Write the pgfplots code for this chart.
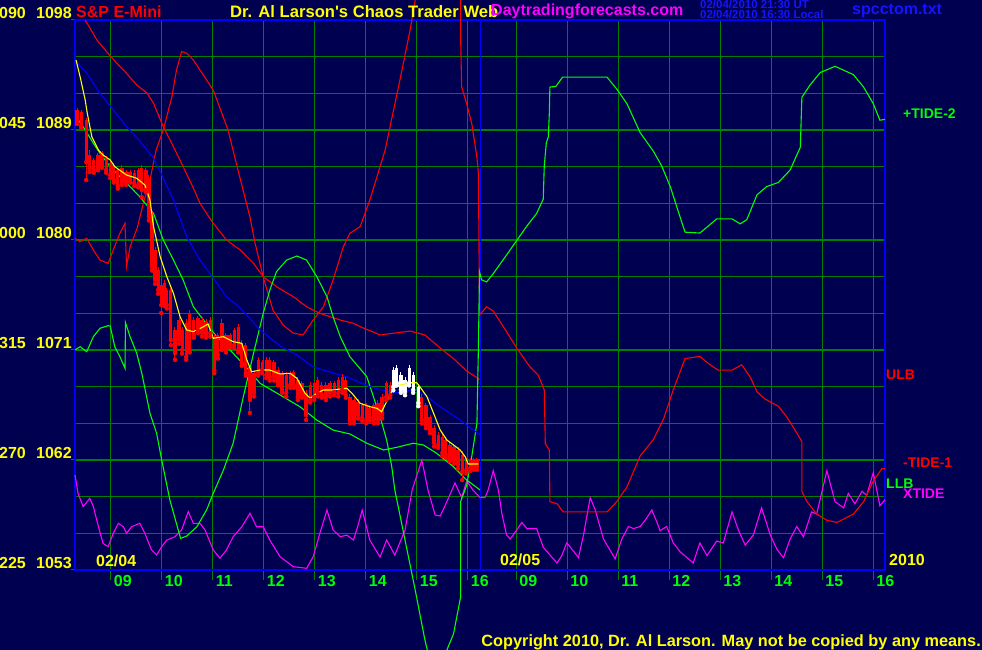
\documentclass[border=0pt]{standalone}
\usepackage{fontspec}
\setmainfont{Liberation Sans}
\usepackage{pgfplots}
\usepackage{pgfplotstable}
\pgfplotsset{compat=1.18}

\definecolor{navy}{RGB}{0,0,80}
\definecolor{gridgreen}{RGB}{0,128,0}
\definecolor{lgreen}{RGB}{0,255,0}
\definecolor{mag}{RGB}{255,0,255}
\definecolor{yel}{RGB}{255,255,0}
\definecolor{fblue}{RGB}{0,0,255}
\definecolor{tblue}{RGB}{20,20,255}
\newcommand\bigf{\fontsize{16}{18}\selectfont\bfseries}
\newcommand\titf{\fontsize{16.6}{18}\selectfont\bfseries}
\newcommand\midf{\fontsize{14}{16}\selectfont\bfseries}
\newcommand\smf{\fontsize{11.5}{12}\selectfont\bfseries}

% price bars: x (hours) wick low, body low, body high, wick high
\pgfplotstableread{
x wl bl bh wh
8.34 1089.49 1089.65 1090.64 1090.80
8.42 1089.20 1089.33 1090.47 1090.60
8.52 1084.91 1086.38 1089.82 1089.98
8.59 1085.56 1085.89 1086.95 1087.36
8.67 1085.50 1085.73 1086.55 1086.70
8.75 1085.70 1085.89 1086.95 1087.10
8.83 1085.90 1086.14 1087.12 1087.30
8.91 1085.50 1085.73 1086.71 1086.90
8.99 1085.07 1085.32 1086.30 1086.55
9.06 1084.70 1084.91 1086.14 1086.30
9.14 1084.20 1084.42 1085.73 1085.90
9.22 1084.50 1084.75 1085.89 1086.10
9.30 1084.50 1084.75 1085.56 1085.70
9.38 1084.70 1084.91 1085.56 1085.70
9.46 1084.40 1084.66 1085.48 1085.70
9.54 1084.30 1084.50 1085.73 1085.90
9.61 1083.50 1084.09 1085.89 1086.10
9.69 1083.90 1084.09 1085.73 1085.90
9.75 1081.60 1081.88 1085.07 1085.30
9.81 1077.50 1077.79 1082.05 1082.30
9.87 1076.40 1076.73 1079.18 1079.40
9.93 1075.60 1075.91 1077.55 1077.80
9.99 1074.03 1074.68 1076.32 1076.73
10.05 1074.60 1074.85 1076.48 1076.70
10.10 1074.40 1074.68 1075.91 1076.10
10.18 1071.40 1071.82 1075.91 1076.10
10.26 1070.20 1070.75 1072.64 1072.90
10.34 1071.50 1071.82 1073.45 1073.70
10.40 1070.70 1071.00 1072.64 1072.90
10.48 1070.20 1070.43 1073.21 1073.50
10.55 1070.80 1071.00 1074.03 1074.30
10.63 1072.00 1072.23 1073.45 1073.70
10.71 1072.40 1072.64 1073.62 1073.80
10.79 1072.10 1072.39 1073.45 1073.70
10.87 1072.00 1072.23 1073.29 1073.50
10.95 1072.10 1072.39 1073.45 1073.70
11.03 1069.10 1069.36 1072.06 1072.30
11.10 1070.30 1070.59 1072.23 1072.40
11.18 1071.00 1071.25 1073.21 1073.50
11.26 1070.80 1071.00 1072.23 1072.40
11.34 1071.20 1071.41 1072.23 1072.40
11.42 1071.20 1071.41 1072.64 1072.80
11.50 1070.80 1071.00 1072.88 1073.10
11.57 1069.70 1069.94 1071.57 1071.80
11.65 1068.90 1069.12 1071.41 1071.60
11.73 1065.85 1066.91 1069.61 1069.80
11.81 1067.20 1067.48 1069.12 1069.30
11.89 1068.90 1069.12 1070.18 1070.40
11.97 1069.10 1069.36 1070.02 1070.20
12.05 1068.70 1068.95 1070.18 1070.40
12.12 1068.50 1068.79 1070.18 1070.40
12.20 1068.50 1068.79 1070.02 1070.20
12.28 1068.10 1068.30 1069.36 1069.60
12.36 1067.50 1067.73 1069.12 1069.30
12.44 1067.20 1067.48 1068.95 1069.20
12.52 1067.90 1068.14 1069.12 1069.30
12.59 1067.90 1068.14 1069.20 1069.40
12.67 1066.90 1067.15 1068.55 1068.80
12.75 1067.10 1067.32 1068.30 1068.50
12.83 1065.27 1065.68 1067.48 1067.70
12.91 1066.70 1066.91 1068.14 1068.40
12.99 1066.90 1067.15 1068.30 1068.50
13.06 1067.20 1067.48 1068.55 1068.80
13.14 1067.10 1067.32 1068.14 1068.40
13.22 1066.90 1067.15 1068.14 1068.40
13.30 1067.20 1067.48 1068.30 1068.50
13.38 1067.30 1067.56 1068.30 1068.50
13.46 1067.20 1067.48 1068.55 1068.80
13.54 1067.50 1067.73 1068.79 1069.00
13.61 1067.10 1067.32 1068.55 1068.80
13.69 1065.00 1065.27 1067.15 1067.40
13.77 1065.00 1065.27 1066.91 1067.10
13.85 1065.40 1065.68 1066.75 1067.00
13.93 1065.20 1065.44 1066.50 1066.70
14.01 1065.00 1065.27 1066.50 1066.70
14.08 1065.20 1065.44 1066.25 1066.50
14.16 1065.00 1065.27 1066.50 1066.70
14.24 1065.00 1065.27 1066.66 1066.90
14.32 1065.40 1065.68 1067.15 1067.40
14.40 1066.90 1067.15 1068.30 1068.50
14.48 1067.10 1067.32 1068.14 1068.40
15.10 1065.00 1065.27 1067.15 1067.40
15.18 1064.60 1064.86 1066.50 1066.70
15.26 1064.20 1064.45 1065.52 1065.70
15.34 1063.10 1063.39 1064.62 1064.90
15.42 1063.00 1063.23 1064.05 1064.30
15.50 1062.30 1062.57 1063.88 1064.10
15.57 1062.20 1062.41 1063.64 1063.90
15.65 1061.90 1062.16 1063.23 1063.50
15.73 1061.70 1062.00 1063.06 1063.30
15.81 1061.30 1061.59 1062.82 1063.10
15.89 1060.36 1061.02 1062.41 1062.70
15.97 1060.90 1061.18 1062.00 1062.20
16.05 1061.10 1061.35 1062.00 1062.20
16.12 1061.20 1061.43 1062.00 1062.20
16.18 1061.20 1061.43 1062.00 1062.20
}\redbars

\pgfplotstableread{
x wl bl bh wh
14.54 1067.70 1067.97 1069.36 1069.60
14.61 1068.10 1068.30 1069.53 1069.80
14.69 1067.50 1067.73 1068.95 1069.20
14.77 1067.30 1067.56 1068.55 1068.80
14.85 1068.10 1068.30 1069.53 1069.80
14.93 1067.50 1067.73 1068.95 1069.20
15.03 1066.40 1066.66 1067.97 1068.20
}\whitebars

\pgfplotsset{cv/.style={line width=1.1pt, mark=none},
  bar/.style={only marks, mark=none, forget plot,
    error bars/.cd, y dir=plus, y explicit, error mark=none}}

\begin{document}
\begin{tikzpicture}[x=1pt,y=1pt]
\useasboundingbox (0,0) rectangle (982,650);
\fill[navy] (0,0) rectangle (982,650);
\clip (0,0) rectangle (982,650);
\begin{axis}[
  at={(75pt,80pt)}, anchor=south west,
  width=810pt, height=550pt, scale only axis,
  xmin=8.3, xmax=24.18, ymin=1053, ymax=1098,
  clip=false,
  axis line style={fblue, line width=2.8pt},
  grid=both,
  major grid style={gridgreen, line width=1.3pt},
  minor grid style={gridgreen, line width=1.3pt},
  xtick={9,10,11,12,13,14,15,16,16.95,17.95,18.95,19.95,20.95,21.95,22.95,23.95},
  xticklabels={09,10,11,12,13,14,15,16,09,10,11,12,13,14,15,16},
  ytick={1053,1062,1071,1080,1089,1098}, yticklabels={},
  minor ytick={1056,1059,1065,1068,1074,1077,1083,1086,1092,1095},
  tick align=outside, xtick pos=bottom, ytick pos=left,
  major tick length=10pt, minor tick length=0pt,
  ytick style={draw=none},
  xtick style={gridgreen, line width=1.3pt},
  x tick label style={text=lgreen, font=\bigf, anchor=north west,
    inner sep=0pt, xshift=3pt, yshift=5pt},
]
% day separator
\addplot[fblue, line width=1pt] coordinates {(16.25,1053) (16.25,1098)};

% XTIDE
\addplot[mag, cv] coordinates {
(8.30,1060.77)(8.36,1059.27)(8.46,1058.18)(8.59,1058.87)(8.66,1058.18)(8.76,1056.54)
(8.85,1055.18)(8.95,1054.91)(9.05,1056.00)(9.15,1056.82)(9.25,1056.54)(9.31,1056.00)
(9.41,1056.54)(9.57,1056.82)(9.67,1056.00)(9.80,1054.64)(9.90,1054.23)(10.00,1054.91)
(10.10,1055.45)(10.26,1055.72)(10.39,1056.27)(10.52,1057.77)(10.62,1056.82)(10.75,1056.82)
(10.85,1056.27)(11.01,1054.64)(11.14,1053.96)(11.27,1054.64)(11.40,1055.72)(11.57,1056.54)
(11.73,1057.64)(11.86,1056.54)(11.99,1056.54)(12.12,1055.45)(12.32,1054.09)(12.58,1053.27)
(12.84,1053.14)(12.97,1054.09)(13.10,1056.00)(13.24,1057.91)(13.36,1056.27)(13.50,1055.72)
(13.63,1055.86)(13.76,1055.45)(13.86,1056.82)(13.93,1057.91)(14.08,1055.45)(14.28,1054.06)
(14.41,1055.45)(14.57,1054.23)(14.77,1056.27)(14.91,1059.55)(15.10,1062.00)(15.22,1059.55)
(15.36,1057.50)(15.46,1057.42)(15.59,1058.59)(15.75,1060.12)(15.88,1058.93)(15.98,1060.28)
(16.10,1059.55)(16.24,1058.93)(16.34,1058.93)(16.40,1059.55)(16.50,1061.13)(16.60,1059.55)
(16.67,1057.58)(16.76,1055.88)(16.83,1055.54)(16.89,1055.86)(17.06,1056.89)(17.16,1056.39)
(17.35,1056.39)(17.48,1054.86)(17.75,1053.57)(17.84,1054.15)(17.94,1055.21)(18.04,1054.72)
(18.17,1054.01)(18.27,1055.88)(18.40,1058.93)(18.50,1057.91)(18.66,1055.54)(18.89,1053.91)
(19.02,1055.54)(19.15,1056.56)(19.25,1056.39)(19.38,1056.56)(19.48,1057.09)(19.61,1057.91)
(19.71,1056.89)(19.77,1056.22)(19.90,1056.56)(20.03,1055.21)(20.16,1054.51)(20.42,1053.57)
(20.55,1055.21)(20.69,1054.18)(20.88,1055.37)(21.01,1055.21)(21.18,1057.75)(21.31,1056.22)
(21.44,1055.03)(21.60,1055.88)(21.76,1058.08)(21.93,1055.88)(22.06,1054.69)(22.19,1054.01)
(22.32,1055.54)(22.45,1056.56)(22.58,1055.71)(22.74,1057.75)(22.84,1057.58)(23.04,1061.13)
(23.20,1058.59)(23.37,1058.08)(23.46,1059.27)(23.59,1058.42)(23.73,1059.44)(23.82,1059.10)
(23.95,1060.97)(24.08,1058.25)(24.18,1058.76)};

% ULB
\addplot[red, cv] coordinates {
(8.50,1098.00)(8.73,1096.36)(8.92,1095.41)(9.12,1094.46)(9.31,1093.64)(9.51,1092.68)
(9.71,1092.03)(9.84,1091.18)(10.03,1089.27)(10.23,1087.63)(10.42,1086.00)(10.62,1084.25)
(10.75,1083.00)(11.01,1081.37)(11.27,1080.00)(11.54,1079.18)(11.80,1078.09)(11.99,1077.00)
(12.25,1076.18)(12.58,1075.36)(12.84,1074.54)(13.10,1074.00)(13.50,1073.45)(13.76,1073.18)
(13.89,1072.91)(14.28,1072.23)(14.87,1072.55)(15.16,1072.23)(15.46,1071.16)(15.72,1070.30)
(15.98,1069.28)(16.23,1068.59)};

% -TIDE-1
\addplot[red, cv] coordinates {
(8.30,1080.14)(8.40,1079.86)(8.53,1080.14)(8.66,1079.18)(8.79,1078.36)(8.95,1078.09)
(9.05,1079.18)(9.18,1080.55)(9.28,1081.37)(9.31,1077.82)(9.38,1079.45)(9.52,1080.98)
(9.63,1082.86)(9.77,1084.91)(9.89,1087.36)(10.03,1089.00)(10.20,1091.72)(10.29,1093.91)
(10.39,1095.41)(10.49,1095.28)(10.62,1094.73)(10.75,1093.91)(11.01,1092.27)(11.14,1090.80)
(11.30,1089.00)(11.48,1085.97)(11.73,1081.88)(11.83,1079.75)(11.99,1076.97)(12.18,1074.27)
(12.38,1073.05)(12.57,1072.39)(12.77,1072.23)(12.97,1073.45)(13.17,1074.54)(13.36,1076.73)
(13.56,1079.45)(13.69,1080.55)(13.89,1081.09)(14.08,1083.27)(14.38,1087.36)(14.67,1093.09)
(14.87,1097.18)(14.97,1099.64)(15.42,1111.91)(15.86,1101.27)(15.86,1096.61)(15.88,1092.52)
(15.98,1091.13)(16.08,1089.49)(16.18,1086.75)(16.21,1085.40)(16.22,1079.59)(16.23,1073.86)
(16.37,1074.53)(16.50,1074.19)(16.76,1072.50)(16.96,1071.16)(17.22,1069.61)(17.38,1068.95)
(17.50,1067.73)(17.52,1063.34)(17.60,1062.82)(17.61,1058.59)(17.75,1058.42)(17.87,1057.75)
(18.73,1057.75)(18.92,1058.59)(19.12,1059.79)(19.38,1062.33)(19.64,1063.68)(19.84,1065.38)
(20.03,1067.75)(20.26,1070.30)(20.55,1070.47)(20.75,1069.79)(20.91,1069.35)(21.18,1069.35)
(21.37,1069.79)(21.54,1068.77)(21.67,1067.58)(21.80,1067.07)(21.93,1066.75)(22.09,1066.39)
(22.25,1065.54)(22.38,1064.70)(22.55,1063.51)(22.55,1059.44)(22.65,1058.59)(22.84,1057.58)
(23.04,1057.07)(23.24,1056.89)(23.56,1057.58)(23.76,1058.59)(23.95,1060.28)(24.12,1061.30)
(24.18,1061.30)};

% +TIDE-2
\addplot[lgreen, cv] coordinates {
(8.30,1071.00)(8.40,1071.27)(8.53,1070.86)(8.66,1072.09)(8.79,1072.78)(8.95,1072.99)
(8.99,1072.96)(9.08,1071.27)(9.18,1070.45)(9.28,1069.50)(9.29,1073.23)(9.38,1072.09)
(9.51,1070.73)(9.61,1069.09)(9.77,1065.82)(9.90,1064.18)(10.00,1062.00)(10.16,1058.73)
(10.37,1055.59)(10.49,1055.78)(10.69,1056.54)(10.88,1057.91)(11.01,1059.27)(11.21,1061.18)
(11.40,1063.37)(11.60,1067.18)(11.80,1070.73)(11.99,1074.00)(12.12,1075.91)(12.25,1077.41)
(12.45,1078.36)(12.65,1078.69)(12.84,1078.36)(13.04,1077.00)(13.24,1075.36)(13.36,1073.72)
(13.50,1072.09)(13.69,1070.45)(14.02,1068.82)(14.15,1067.18)(14.28,1065.54)(14.41,1063.64)
(14.51,1061.45)(14.57,1059.55)(14.77,1055.45)(14.97,1051.36)(15.16,1047.27)(15.30,1044.82)
(15.46,1044.82)(15.59,1046.45)(15.72,1047.76)(15.86,1050.79)(15.86,1058.59)(15.98,1059.95)
(16.08,1062.33)(16.18,1065.03)(16.21,1071.49)(16.23,1077.41)(16.27,1076.74)(16.37,1076.57)
(16.50,1077.25)(16.76,1078.77)(16.96,1079.96)(17.16,1081.15)(17.35,1082.17)(17.48,1083.35)
(17.50,1086.07)(17.54,1087.94)(17.58,1088.44)(17.60,1090.48)(17.61,1092.51)(17.73,1092.58)
(17.86,1093.33)(18.73,1093.33)(18.92,1092.35)(19.12,1091.16)(19.38,1088.78)(19.64,1087.26)
(19.80,1086.07)(19.97,1084.37)(20.10,1082.68)(20.26,1080.64)(20.55,1080.57)(20.69,1081.05)
(20.88,1081.73)(21.18,1081.73)(21.34,1081.32)(21.47,1081.66)(21.67,1083.69)(21.86,1084.37)
(22.09,1084.71)(22.32,1085.73)(22.52,1087.59)(22.55,1091.67)(22.71,1092.68)(22.91,1093.70)
(23.20,1094.21)(23.56,1093.53)(23.76,1092.51)(23.95,1091.16)(24.08,1089.80)(24.18,1089.87)};

% LLB
\addplot[lgreen, cv] coordinates {
(8.32,1090.09)(8.46,1089.27)(8.66,1087.91)(8.79,1087.09)(8.99,1086.00)(9.18,1085.18)
(9.38,1084.36)(9.57,1083.54)(9.84,1082.18)(10.03,1080.00)(10.23,1078.36)(10.42,1076.73)
(10.62,1074.54)(10.82,1073.45)(11.08,1072.09)(11.34,1071.00)(11.67,1069.53)(11.93,1068.27)
(12.32,1067.32)(12.71,1066.36)(13.04,1065.27)(13.36,1064.45)(13.69,1064.13)(14.02,1063.37)
(14.35,1062.82)(14.61,1063.04)(14.93,1063.37)(15.13,1063.23)(15.39,1062.55)(15.72,1061.45)
(15.98,1060.36)(16.24,1059.55)};

% blue average
\addplot[fblue, cv] coordinates {
(8.32,1094.59)(8.53,1093.64)(8.79,1092.00)(9.05,1090.64)(9.31,1089.27)(9.57,1088.10)
(9.84,1086.71)(10.03,1085.07)(10.23,1083.27)(10.49,1080.27)(10.75,1078.36)(11.01,1076.89)
(11.27,1075.36)(11.54,1074.44)(11.93,1072.64)(12.32,1071.33)(12.65,1070.59)(12.97,1069.61)
(13.30,1069.20)(13.63,1068.79)(14.08,1068.00)(14.54,1067.48)(14.93,1067.73)(15.13,1067.40)
(15.46,1066.36)(15.85,1065.27)(16.24,1064.05)};

% price bars
\addplot[red, bar, error bar style={line width=1pt}]
  table[x=x, y=wl, y error expr=\thisrow{wh}-\thisrow{wl}] {\redbars};
\addplot[red, bar, error bar style={line width=3.2pt}]
  table[x=x, y=bl, y error expr=\thisrow{bh}-\thisrow{bl}] {\redbars};
\addplot[white, bar, error bar style={line width=1pt}]
  table[x=x, y=wl, y error expr=\thisrow{wh}-\thisrow{wl}] {\whitebars};
\addplot[white, bar, error bar style={line width=3.2pt}]
  table[x=x, y=bl, y error expr=\thisrow{bh}-\thisrow{bl}] {\whitebars};

% yellow average
\addplot[yel, cv] coordinates {
(8.32,1094.73)(8.40,1093.36)(8.50,1091.45)(8.54,1090.39)(8.63,1088.45)(8.76,1087.36)
(8.85,1086.95)(8.99,1086.55)(9.08,1086.00)(9.31,1085.32)(9.51,1085.05)(9.67,1084.50)
(9.77,1083.27)(9.84,1081.09)(9.97,1078.63)(10.10,1077.00)(10.23,1075.64)(10.36,1073.72)
(10.49,1072.64)(10.62,1072.50)(10.82,1072.91)(10.91,1073.13)(11.01,1071.96)(11.21,1072.09)
(11.40,1071.68)(11.57,1071.55)(11.67,1070.18)(11.76,1069.22)(11.93,1069.36)(12.12,1069.36)
(12.32,1069.04)(12.52,1069.09)(12.65,1068.68)(12.81,1067.46)(12.91,1067.05)(13.04,1067.46)
(13.17,1067.73)(13.36,1067.73)(13.63,1067.87)(13.73,1067.46)(13.89,1066.64)(14.08,1066.36)
(14.22,1066.23)(14.31,1065.95)(14.41,1066.77)(14.54,1067.87)(14.67,1068.14)(14.87,1068.32)
(15.00,1068.32)(15.06,1068.00)(15.20,1067.18)(15.33,1065.82)(15.46,1064.45)(15.59,1063.64)
(15.72,1063.23)(15.85,1062.82)(15.95,1062.27)(16.01,1061.67)(16.21,1061.67)};
\end{axis}

% left scale labels and their small ticks
\foreach \py/\a/\b in {20/090/1098,130/045/1089,240/000/1080,350/315/1071,460/270/1062,570/225/1053}{
  \node[anchor=base east, inner sep=0pt, text=yel, font=\bigf] at (26,651-\py) {\a};
  \node[anchor=base east, inner sep=0pt, text=yel, font=\bigf] at (72,651-\py) {\b};
  \draw[gridgreen, line width=1pt] (71,650-\py) -- (74,650-\py);
}
% header
\node[anchor=base west, inner sep=0pt, text=red, font=\bigf] at (76,632.5) {S\&P E-Mini};
\node[anchor=base west, inner sep=0pt, text=yel, font=\titf] at (230,632.5) {Dr. Al Larson\textquotesingle s Chaos Trader Web};
\node[anchor=base west, inner sep=0pt, text=mag, font=\bigf] at (491,634) {Daytradingforecasts.com};
\node[anchor=base west, inner sep=0pt, text=tblue, font=\smf] at (700,641) {02/04/2010 21:30 UT};
\node[anchor=base west, inner sep=0pt, text=tblue, font=\smf] at (700,631.5) {02/04/2010 16:30 Local};
\node[anchor=base west, inner sep=0pt, text=tblue, font=\bigf] at (852,635) {spcctom.txt};
% right labels
\node[anchor=base west, inner sep=0pt, text=lgreen, font=\midf] at (903,531) {+TIDE-2};
\node[anchor=base west, inner sep=0pt, text=red, font=\midf] at (886,270) {ULB};
\node[anchor=base west, inner sep=0pt, text=red, font=\midf] at (903,182) {-TIDE-1};
\node[anchor=base west, inner sep=0pt, text=lgreen, font=\midf] at (886,161) {LLB};
\node[anchor=base west, inner sep=0pt, text=mag, font=\midf] at (903,151) {XTIDE};
\node[anchor=base west, inner sep=0pt, text=yel, font=\bigf] at (889,84) {2010};
\node[anchor=base west, inner sep=0pt, text=yel, font=\bigf] at (96,83) {02/04};
\node[anchor=base west, inner sep=0pt, text=yel, font=\bigf] at (500,84) {02/05};
% footer
\node[anchor=base east, inner sep=0pt, text=yel, font=\fontsize{16.3}{18}\selectfont\bfseries] at (981,3) {Copyright 2010, Dr. Al Larson. May not be copied by any means.};
\end{tikzpicture}
\end{document}
